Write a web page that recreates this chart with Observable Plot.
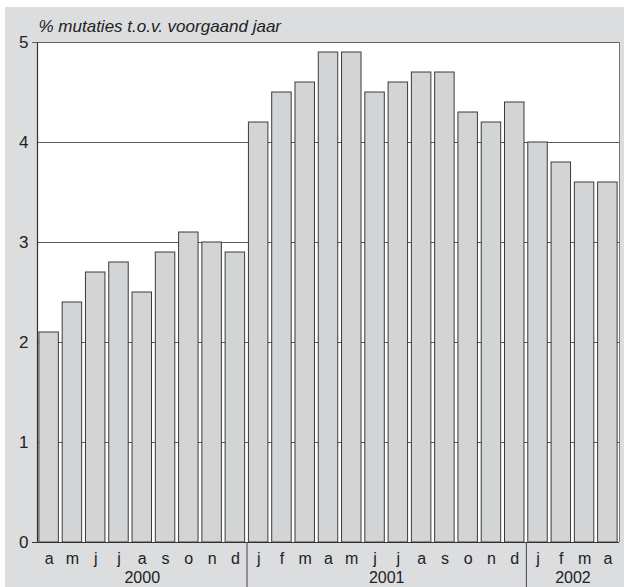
<!DOCTYPE html>
<html>
<head>
<meta charset="utf-8">
<script src="https://cdn.jsdelivr.net/npm/d3@7"></script>
<script src="https://cdn.jsdelivr.net/npm/@observablehq/plot@0.6"></script>
<style>
  html, body { margin: 0; padding: 0; background: #ffffff; }
  #wrap { position: absolute; left: 5px; top: 7px; width: 619px; height: 580px; background: #dcdddf; }
  #wrap svg { display: block; }
</style>
</head>
<body>
<div id="wrap"></div>
<script>
const months = ["a","m","j","j","a","s","o","n","d","j","f","m","a","m","j","j","a","s","o","n","d","j","f","m","a"];
const values = [2.1,2.4,2.7,2.8,2.5,2.9,3.1,3.0,2.9,4.2,4.5,4.6,4.9,4.9,4.5,4.6,4.7,4.7,4.3,4.2,4.4,4.0,3.8,3.6,3.6];
const years = ["2000","2001","2002"];
const yearStart = [0, 9, 21];
const yearEnd = [8, 20, 24];
const yTicks = [0,1,2,3,4,5];
const gridTicks = [1,2,3,4];
const title = "% mutaties t.o.v. voorgaand jaar";

const data = values.map((v, i) => ({i, v, m: months[i]}));
const yearData = years.map((y, k) => ({y, c: (yearStart[k] + yearEnd[k]) / 2}));
const seps = yearEnd.slice(0, -1).map(e => e + 0.5);

const font = "'Liberation Sans', Arial, sans-serif";

const chart = Plot.plot({
  width: 619,
  height: 580,
  marginLeft: 32,
  marginRight: 5,
  marginTop: 35,
  marginBottom: 45,
  style: {background: "transparent", fontFamily: font, fontSize: "17px", color: "#222"},
  x: {domain: [-0.5, values.length - 0.5], axis: null},
  y: {domain: [0, 5], axis: null},
  marks: [
    Plot.frame({fill: "#ffffff", stroke: null}),
    Plot.ruleY(gridTicks, {stroke: "#5a5a5a", strokeWidth: 1}),
    Plot.rectY(data, {x1: d => d.i - 0.5, x2: d => d.i + 0.5, y: "v", insetLeft: 1.9, insetRight: 1.9, fill: "#d3d4d6", stroke: "#3a3a3a", strokeWidth: 1}),
    Plot.ruleY([5], {stroke: "#666", strokeWidth: 1, insetLeft: -5}),
    Plot.ruleY([0], {stroke: "#333", strokeWidth: 1.2, insetLeft: -5}),
    Plot.ruleX([-0.5], {stroke: "#333", strokeWidth: 1.2}),
    Plot.ruleX([values.length - 0.5], {stroke: "#777", strokeWidth: 1}),
    Plot.ruleX(seps, {stroke: "#444", strokeWidth: 1, insetTop: 500, insetBottom: -45}),
    Plot.text(yTicks, {x: -0.5, y: d => d, text: d => String(d), textAnchor: "end", dx: -9, fontSize: 17, fill: "#222"}),
    Plot.text(data, {x: "i", text: "m", frameAnchor: "bottom", lineAnchor: "top", dy: 10, fontSize: 16, fill: "#222"}),
    Plot.text(yearData, {x: "c", text: "y", frameAnchor: "bottom", lineAnchor: "top", dy: 29, fontSize: 16, fill: "#222"}),
    Plot.text([title], {frameAnchor: "top-left", text: d => d, textAnchor: "start", lineAnchor: "bottom", dx: 1, dy: -11, fontSize: 17, fontStyle: "italic", fill: "#222"})
  ]
});
document.getElementById("wrap").appendChild(chart);
</script>
</body>
</html>
